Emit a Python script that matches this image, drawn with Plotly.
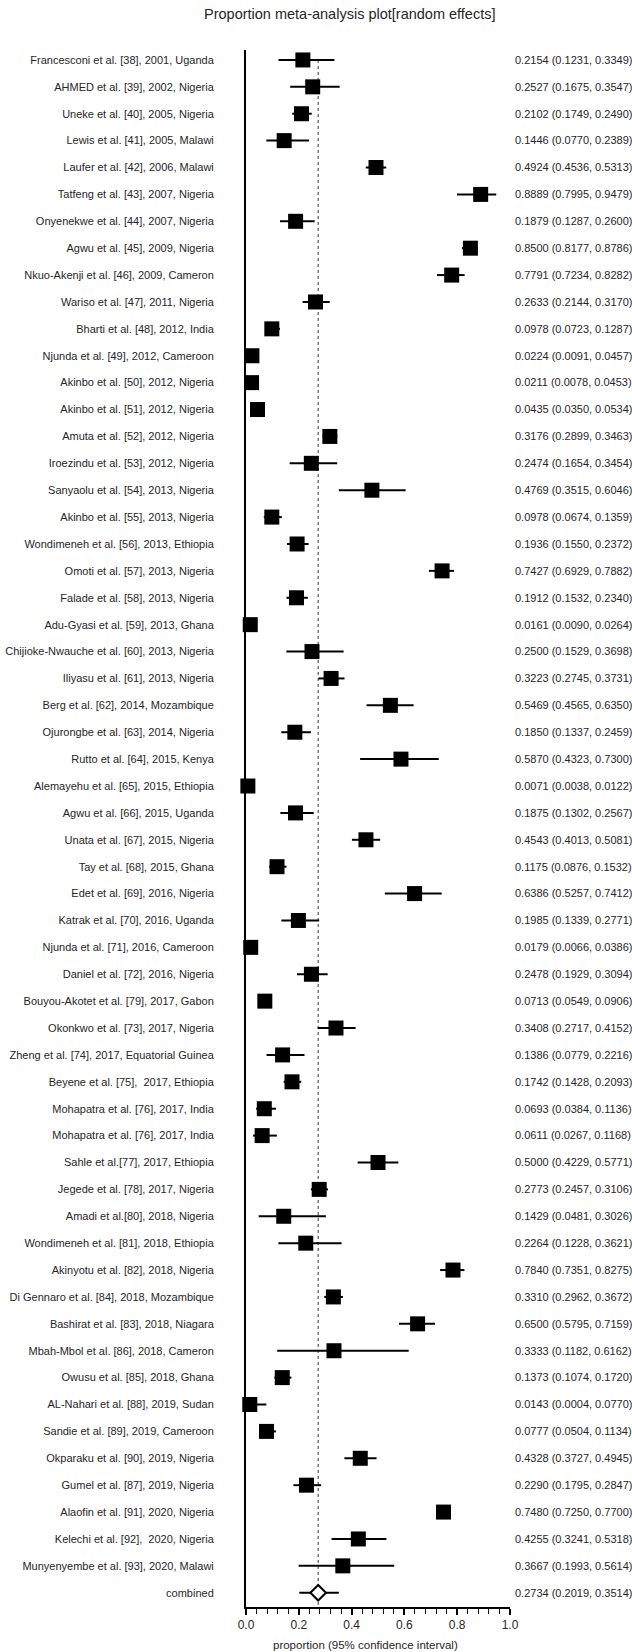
import plotly.graph_objects as go

studies = [
    "Francesconi et al. [38], 2001, Uganda",
    "AHMED et al. [39], 2002, Nigeria",
    "Uneke et al. [40], 2005, Nigeria",
    "Lewis et al. [41], 2005, Malawi",
    "Laufer et al. [42], 2006, Malawi",
    "Tatfeng et al. [43], 2007, Nigeria",
    "Onyenekwe et al. [44], 2007, Nigeria",
    "Agwu et al. [45], 2009, Nigeria",
    "Nkuo-Akenji et al. [46], 2009, Cameron",
    "Wariso et al. [47], 2011, Nigeria",
    "Bharti et al. [48], 2012, India",
    "Njunda et al. [49], 2012, Cameroon",
    "Akinbo et al. [50], 2012, Nigeria",
    "Akinbo et al. [51], 2012, Nigeria",
    "Amuta et al. [52], 2012, Nigeria",
    "Iroezindu et al. [53], 2012, Nigeria",
    "Sanyaolu et al. [54], 2013, Nigeria",
    "Akinbo et al. [55], 2013, Nigeria",
    "Wondimeneh et al. [56], 2013, Ethiopia",
    "Omoti et al. [57], 2013, Nigeria",
    "Falade et al. [58], 2013, Nigeria",
    "Adu-Gyasi et al. [59], 2013, Ghana",
    "Chijioke-Nwauche et al. [60], 2013, Nigeria",
    "Iliyasu et al. [61], 2013, Nigeria",
    "Berg et al. [62], 2014, Mozambique",
    "Ojurongbe et al. [63], 2014, Nigeria",
    "Rutto et al. [64], 2015, Kenya",
    "Alemayehu et al. [65], 2015, Ethiopia",
    "Agwu et al. [66], 2015, Uganda",
    "Unata et al. [67], 2015, Nigeria",
    "Tay et al. [68], 2015, Ghana",
    "Edet et al. [69], 2016, Nigeria",
    "Katrak et al. [70], 2016, Uganda",
    "Njunda et al. [71], 2016, Cameroon",
    "Daniel et al. [72], 2016, Nigeria",
    "Bouyou-Akotet et al. [79], 2017, Gabon",
    "Okonkwo et al. [73], 2017, Nigeria",
    "Zheng et al. [74], 2017, Equatorial Guinea",
    "Beyene et al. [75],  2017, Ethiopia",
    "Mohapatra et al. [76], 2017, India",
    "Mohapatra et al. [76], 2017, India",
    "Sahle et al.[77], 2017, Ethiopia",
    "Jegede et al. [78], 2017, Nigeria",
    "Amadi et al.[80], 2018, Nigeria",
    "Wondimeneh et al. [81], 2018, Ethiopia",
    "Akinyotu et al. [82], 2018, Nigeria",
    "Di Gennaro et al. [84], 2018, Mozambique",
    "Bashirat et al. [83], 2018, Niagara",
    "Mbah-Mbol et al. [86], 2018, Cameron",
    "Owusu et al. [85], 2018, Ghana",
    "AL-Nahari et al. [88], 2019, Sudan",
    "Sandie et al. [89], 2019, Cameroon",
    "Okparaku et al. [90], 2019, Nigeria",
    "Gumel et al. [87], 2019, Nigeria",
    "Alaofin et al. [91], 2020, Nigeria",
    "Kelechi et al. [92],  2020, Nigeria",
    "Munyenyembe et al. [93], 2020, Malawi",
]

estimate = [0.2154, 0.2527, 0.2102, 0.1446, 0.4924, 0.8889, 0.1879, 0.8500, 0.7791, 0.2633,
            0.0978, 0.0224, 0.0211, 0.0435, 0.3176, 0.2474, 0.4769, 0.0978, 0.1936, 0.7427,
            0.1912, 0.0161, 0.2500, 0.3223, 0.5469, 0.1850, 0.5870, 0.0071, 0.1875, 0.4543,
            0.1175, 0.6386, 0.1985, 0.0179, 0.2478, 0.0713, 0.3408, 0.1386, 0.1742, 0.0693,
            0.0611, 0.5000, 0.2773, 0.1429, 0.2264, 0.7840, 0.3310, 0.6500, 0.3333, 0.1373,
            0.0143, 0.0777, 0.4328, 0.2290, 0.7480, 0.4255, 0.3667]

lower = [0.1231, 0.1675, 0.1749, 0.0770, 0.4536, 0.7995, 0.1287, 0.8177, 0.7234, 0.2144,
         0.0723, 0.0091, 0.0078, 0.0350, 0.2899, 0.1654, 0.3515, 0.0674, 0.1550, 0.6929,
         0.1532, 0.0090, 0.1529, 0.2745, 0.4565, 0.1337, 0.4323, 0.0038, 0.1302, 0.4013,
         0.0876, 0.5257, 0.1339, 0.0066, 0.1929, 0.0549, 0.2717, 0.0779, 0.1428, 0.0384,
         0.0267, 0.4229, 0.2457, 0.0481, 0.1228, 0.7351, 0.2962, 0.5795, 0.1182, 0.1074,
         0.0004, 0.0504, 0.3727, 0.1795, 0.7250, 0.3241, 0.1993]

upper = [0.3349, 0.3547, 0.2490, 0.2389, 0.5313, 0.9479, 0.2600, 0.8786, 0.8282, 0.3170,
         0.1287, 0.0457, 0.0453, 0.0534, 0.3463, 0.3454, 0.6046, 0.1359, 0.2372, 0.7882,
         0.2340, 0.0264, 0.3698, 0.3731, 0.6350, 0.2459, 0.7300, 0.0122, 0.2567, 0.5081,
         0.1532, 0.7412, 0.2771, 0.0386, 0.3094, 0.0906, 0.4152, 0.2216, 0.2093, 0.1136,
         0.1168, 0.5771, 0.3106, 0.3026, 0.3621, 0.8275, 0.3672, 0.7159, 0.6162, 0.1720,
         0.0770, 0.1134, 0.4945, 0.2847, 0.7700, 0.5318, 0.5614]

combined_label = "combined"
combined_est = 0.2734
combined_lo = 0.2019
combined_hi = 0.3514

title = "Proportion meta-analysis plot[random effects]"
x_title = "proportion (95% confidence interval)"
x_ticks = [0.0, 0.2, 0.4, 0.6, 0.8, 1.0]

FONT = "Liberation Sans, Arial, sans-serif"
TXT = "#262626"

n = len(studies)
rows = list(range(n))
all_labels = studies + [combined_label]
all_rows = rows + [n]
right_text = [f"{e:.4f} ({l:.4f}, {h:.4f})" for e, l, h in
              zip(estimate + [combined_est], lower + [combined_lo], upper + [combined_hi])]

fig = go.Figure()

# pooled estimate reference line
fig.add_trace(go.Scatter(
    x=[combined_est, combined_est], y=[0, n + 0.53], mode="lines",
    line=dict(color="#333333", width=1, dash="dot"),
    hoverinfo="skip", showlegend=False, cliponaxis=False))

# individual studies
fig.add_trace(go.Scatter(
    x=estimate, y=rows, mode="markers",
    marker=dict(symbol="square", size=15, color="black"),
    error_x=dict(type="data", symmetric=False,
                 array=[h - e for e, h in zip(estimate, upper)],
                 arrayminus=[e - l for e, l in zip(estimate, lower)],
                 color="black", thickness=2, width=0),
    cliponaxis=False, showlegend=False))

# combined
fig.add_trace(go.Scatter(
    x=[combined_est], y=[n], mode="markers",
    marker=dict(symbol="diamond", size=12, color="white",
                line=dict(color="black", width=2)),
    error_x=dict(type="data", symmetric=False,
                 array=[combined_hi - combined_est],
                 arrayminus=[combined_est - combined_lo],
                 color="black", thickness=2, width=0),
    cliponaxis=False, showlegend=False))

# invisible trace to carry the right-hand axis
fig.add_trace(go.Scatter(
    x=estimate + [combined_est], y=all_rows, yaxis="y2", mode="markers",
    marker=dict(opacity=0), hoverinfo="skip", showlegend=False))

yrange = [n + 0.53, -0.37]

fig.update_layout(
    width=632, height=1652,
    margin=dict(l=246, r=122, t=50, b=45),
    plot_bgcolor="white", paper_bgcolor="white",
    font=dict(family=FONT, size=11, color=TXT),
    xaxis=dict(range=[0, 1], showline=True, linecolor="black", linewidth=2,
               automargin=False,
               showgrid=False, zeroline=False,
               ticks="outside", tickvals=x_ticks, tickformat=".1f",
               ticklen=6, tickwidth=1.5, tickcolor="black",
               minor=dict(ticks="outside", tick0=0, dtick=0.04, ticklen=5,
                          tickwidth=1.2, tickcolor="black", showgrid=False),
               tickfont=dict(family=FONT, size=12, color=TXT)),
    yaxis=dict(range=yrange, showline=True, linecolor="black", linewidth=2,
               automargin=False,
               showgrid=False, zeroline=False, ticks="",
               tickvals=all_rows, ticktext=all_labels,
               ticklabelstandoff=28,
               tickfont=dict(family=FONT, size=11, color=TXT)),
    yaxis2=dict(range=yrange, overlaying="y", side="right", anchor="x",
                automargin=False,
                showline=False, showgrid=False, zeroline=False, ticks="",
                tickvals=all_rows, ticktext=right_text,
                ticklabelstandoff=4,
                tickfont=dict(family=FONT, size=11, color=TXT)),
    annotations=[
        dict(text=title, xref="paper", yref="paper", x=0.394, y=1,
             xanchor="center", yanchor="bottom", yshift=26, showarrow=False,
             font=dict(family=FONT, size=14.5, color=TXT)),
        dict(text=x_title, xref="paper", yref="paper", x=0.4545, y=0,
             xanchor="center", yanchor="top", yshift=-30, showarrow=False,
             font=dict(family=FONT, size=11.5, color=TXT)),
    ],
)

fig.write_html("out.html",
               config={"displayModeBar": False},
               post_script="document.body.style.margin='0px';document.body.style.overflow='hidden';")
